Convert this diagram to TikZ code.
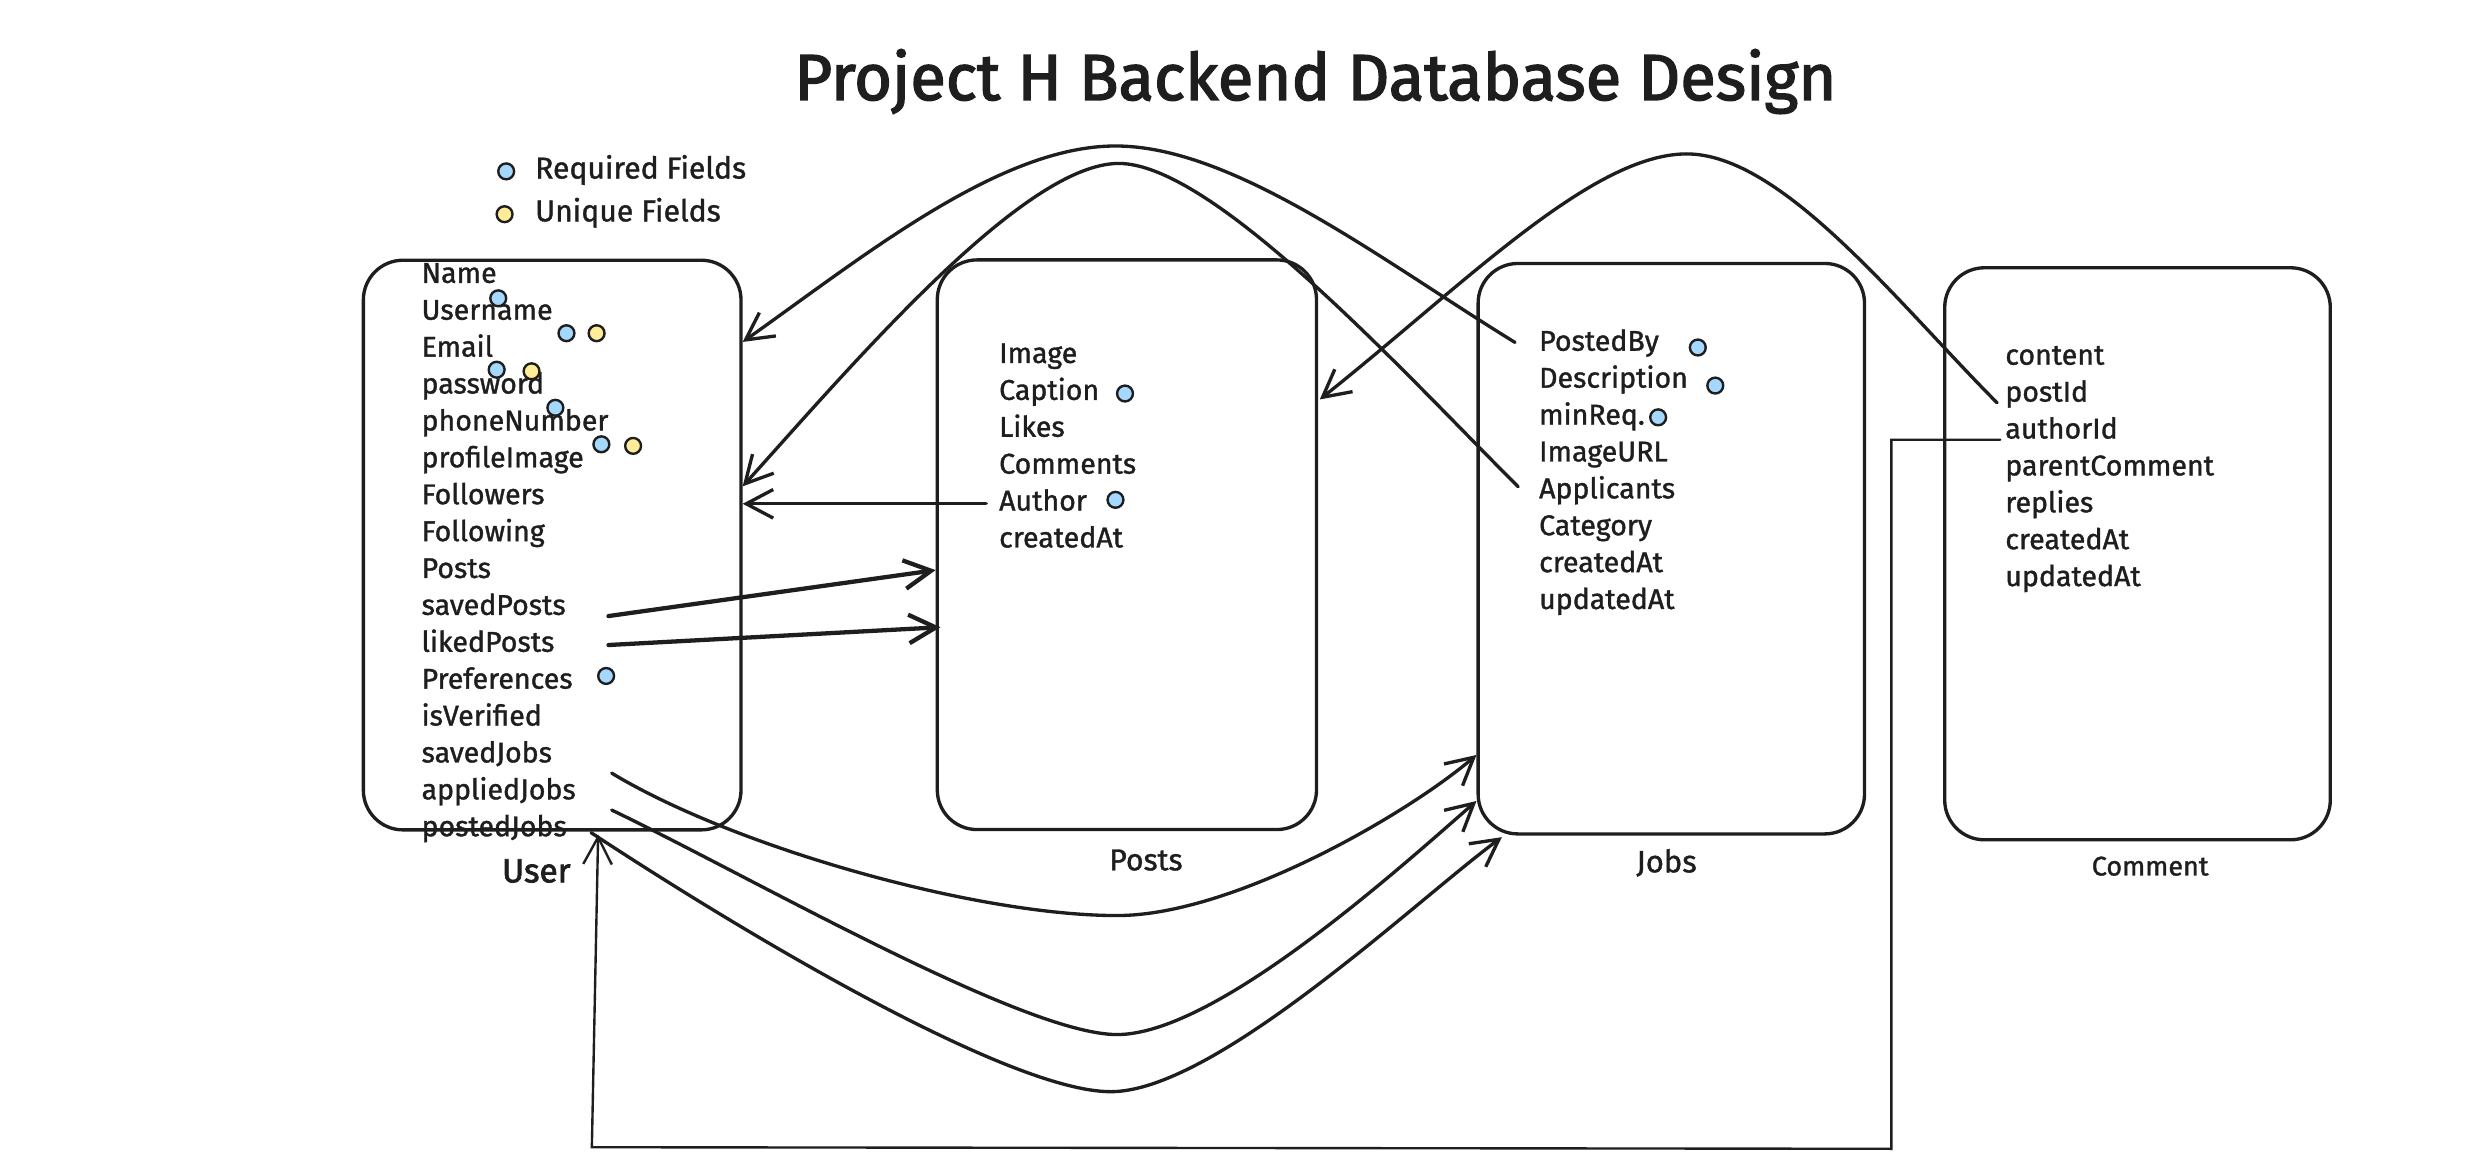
\documentclass[tikz,border=0pt]{standalone}
\usepackage{fontspec}
\setmainfont{Fira Sans}
\newfontfamily\sketchfont{Fira Sans}[RawFeature={embolden=1.2}]
\newfontfamily\headfont{Fira Sans}[RawFeature={embolden=2.2}]
\usetikzlibrary{positioning}
\usetikzlibrary{calc,arrows.meta}

\definecolor{ink}{HTML}{1E1E1E}
\definecolor{reqblue}{HTML}{A5D8FF}
\definecolor{uniqyellow}{HTML}{FFEC99}

\newcommand{\fieldfont}{\sketchfont\fontsize{18}{20}\selectfont}

\tikzset{
  table/.style={draw=ink, line width=2.1pt, rounded corners=25pt, inner sep=0pt},
  field/.style={text=ink, font=\fieldfont, text width=150pt, align=left, inner sep=0pt,
                minimum height=22.85pt, text height=12pt, text depth=3.5pt},
  legend/.style={text=ink, font=\sketchfont\fontsize{19}{21}\selectfont, anchor=west, text height=13pt, text depth=4pt},
  tablename/.style={text=ink},
  req/.style={circle, draw=ink, fill=reqblue, line width=1.5pt, minimum size=10pt, inner sep=0pt},
  uniq/.style={req, fill=uniqyellow},
  link/.style={draw=ink, line width=2.1pt, line cap=round, -{Straight Barb[length=17pt,width=18pt]}},
  heavylink/.style={link, line width=2.7pt},
  thinlink/.style={link, line width=1.5pt}
}

\begin{document}
\begin{tikzpicture}[x=1pt, y=-1pt, node distance=0pt]
	\path[use as bounding box, fill=white] (0,0) rectangle (1568,736);

	\node[text=ink, font=\headfont\fontsize{41}{48}\selectfont, anchor=base] (title) at (829,63) {Project H Backend Database Design};

	% legend
	\node[req] (reqdot) at (319,108) {};
	\node[legend, right=9pt of reqdot] (reqtxt) {Required Fields};
	\node[uniq] (uniqdot) at (318,135) {};
	\node[legend, right=10pt of uniqdot] (uniqtxt) {Unique Fields};

	% tables
	\node[table, minimum width=238pt, minimum height=359pt] (user) at (348,343.5) {};
	\node[table, minimum width=239pt, minimum height=359pt] (posts) at (710.2,343.3) {};
	\node[table, minimum width=243.5pt, minimum height=359.5pt] (jobs) at (1053.3,345.8) {};
	\node[table, minimum width=243pt, minimum height=360.5pt] (comment) at (1347.1,349) {};

	\node[tablename, font=\headfont\fontsize{21}{24}\selectfont, below=14pt of user, xshift=-10pt] (userlbl) {User};
	\node[tablename, font=\sketchfont\fontsize{19}{22}\selectfont, below=8pt of posts, xshift=12pt] (postslbl) {Posts};
	\node[tablename, font=\sketchfont\fontsize{19.5}{22}\selectfont, below=5pt of jobs, xshift=-3pt] (jobslbl) {Jobs};
	\node[tablename, font=\sketchfont\fontsize{17}{20}\selectfont, below=6pt of comment, xshift=8pt] (commentlbl) {Comment};

	% user fields
	\node[field] (u1) at (340.7,174) {Name};
	\node[field, below=of u1] (u2) {Username};
	\node[field, below=of u2] (u3) {Email};
	\node[field, below=of u3] (u4) {password};
	\node[field, below=of u4] (u5) {phoneNumber};
	\node[field, below=of u5] (u6) {profileImage};
	\node[field, below=of u6] (u7) {Followers};
	\node[field, below=of u7] (u8) {Following};
	\node[field, below=of u8] (u9) {Posts};
	\node[field, below=of u9] (u10) {savedPosts};
	\node[field, below=of u10] (u11) {likedPosts};
	\node[field, below=of u11] (u12) {Preferences};
	\node[field, below=of u12] (u13) {isVerified};
	\node[field, below=of u13] (u14) {savedJobs};
	\node[field, below=of u14] (u15) {appliedJobs};
	\node[field, below=of u15] (u16) {postedJobs};

	% posts fields
	\node[field] (p1) at (704.7,224.5) {Image};
	\node[field, below=of p1] (p2) {Caption};
	\node[field, below=of p2] (p3) {Likes};
	\node[field, below=of p3] (p4) {Comments};
	\node[field, below=of p4] (p5) {Author};
	\node[field, below=of p5] (p6) {createdAt};

	% jobs fields
	\node[field] (j1) at (1045,216.8) {PostedBy};
	\node[field, below=of j1] (j2) {Description};
	\node[field, below=of j2] (j3) {minReq.};
	\node[field, below=of j3] (j4) {ImageURL};
	\node[field, below=of j4] (j5) {Applicants};
	\node[field, below=of j5] (j6) {Category};
	\node[field, below=of j6] (j7) {createdAt};
	\node[field, below=of j7] (j8) {updatedAt};

	% comment fields
	\node[field] (c1) at (1338.8,225.6) {content};
	\node[field, below=of c1] (c2) {postId};
	\node[field, below=of c2] (c3) {authorId};
	\node[field, below=of c3] (c4) {parentComment};
	\node[field, below=of c4] (c5) {replies};
	\node[field, below=of c5] (c6) {createdAt};
	\node[field, below=of c6] (c7) {updatedAt};

	% required / unique marks
	\node[req] (d1) at (314,188) {};
	\node[req] (d2) at (357,210) {};
	\node[uniq] (d3) at (376,210) {};
	\node[req] (d4) at (313,233) {};
	\node[uniq] (d5) at (335,234) {};
	\node[req] (d6) at (350,257) {};
	\node[req] (d7) at (379,280) {};
	\node[uniq] (d8) at (399,281) {};
	\node[req] (d9) at (382,426) {};
	\node[req] (d10) at (709,248) {};
	\node[req] (d11) at (703,315) {};
	\node[req] (d12) at (1070,219) {};
	\node[req] (d13) at (1081,243) {};
	\node[req] (d14) at (1045,263) {};

	% relations over the top
	\draw[link] ($(j1.west)+(-15,-1)$) .. controls (872,165) and (778,92) .. (703,92)
		.. controls (630,92) and (545,161) .. ($(u3 -| user.east)+(0,-5)$);
	\draw[link] ($(j5.west)+(-13,-3)$) .. controls (885,235) and (765,103) .. (705,103)
		.. controls (645,103) and (537,230) .. ($(u7 -| user.east)+(0,-7)$);
	\draw[link] ($(c2.west)+(-5,5)$) .. controls (1196,191) and (1123,97) .. (1063,97)
		.. controls (1003,97) and (922,180) .. ($(p2 -| posts.east)+(1,4)$);

	% straight relations
	\draw[link] ($(p5.west)+(-8,0)$) -- (p5 -| user.east);
	\draw[heavylink] ($(u10.west)+(118,5)$) -- ($(posts.west)+(0,16)$);
	\draw[heavylink] ($(u11.west)+(118,0)$) -- ($(posts.west)+(3,52)$);

	% relations under the tables
	\draw[link] ($(u14.west)+(120,11)$) .. controls (463,534) and (615,577) .. (704,577)
		.. controls (777,577) and (887,513) .. ($(jobs.west)+(0,130)$);
	\draw[link] ($(u15.west)+(120,11)$) .. controls (474,553) and (645,652) .. (704,652)
		.. controls (766,652) and (881,548) .. ($(jobs.west)+(0,159)$);
	\draw[link] ($(u16.west)+(107,2)$) .. controls (464,585) and (635,688) .. (700,688)
		.. controls (766,688) and (893,567) .. ($(jobs.south west)+(16,1)$);

	\coordinate (loopR) at (1192,724);
	\coordinate (loopL) at (373,723);
	\draw[thinlink] ($(c3.west)+(-3,5)$) -| (loopR) -- (loopL) -- ($(user.south west)+(149,2)$);
\end{tikzpicture}
\end{document}
